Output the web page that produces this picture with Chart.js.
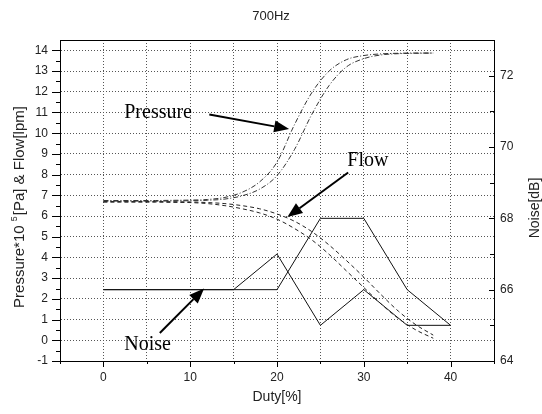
<!DOCTYPE html>
<html>
<head>
<meta charset="utf-8">
<script src="https://cdn.jsdelivr.net/npm/chart.js@4"></script>
<style>
body { margin: 0; background: #fff; }
</style>
</head>
<body>
<canvas id="chartDuty" width="542" height="414"></canvas>
<script>
// duty cycle samples for the pressure / flow curves
const duty = [0, 2, 4, 6, 8, 10, 12, 14, 16, 18, 20, 22, 24, 26, 28, 30, 32, 34, 36, 38];
const pressureA = [6.75, 6.75, 6.75, 6.75, 6.76, 6.77, 6.8, 6.9, 7.15, 7.65, 8.6, 10.4, 11.95, 13.0, 13.55, 13.75, 13.83, 13.86, 13.87, 13.87];
const pressureB = [6.72, 6.72, 6.72, 6.72, 6.73, 6.74, 6.76, 6.82, 6.98, 7.3, 7.95, 9.2, 10.9, 12.3, 13.2, 13.6, 13.78, 13.84, 13.86, 13.87];
const flowA = [6.7, 6.7, 6.7, 6.7, 6.69, 6.68, 6.65, 6.6, 6.5, 6.35, 6.1, 5.75, 5.25, 4.6, 3.85, 3.05, 2.2, 1.4, 0.75, 0.25];
const flowB = [6.67, 6.67, 6.67, 6.67, 6.66, 6.65, 6.6, 6.5, 6.35, 6.15, 5.85, 5.4, 4.85, 4.15, 3.35, 2.55, 1.75, 1.05, 0.5, 0.1];

// noise (right axis, dB)
const noiseDuty = [0, 5, 10, 15, 20, 25, 30, 35, 40];
const noiseA = [66, 66, 66, 66, 67, 65, 66, 65, 65];
const noiseB = [66, 66, 66, 66, 66, 68, 68, 66, 65];

// tick values
const xTicks = [-5, 0, 5, 10, 15, 20, 25, 30, 35, 40, 45];
const yTicks = [-1, 0, 1, 2, 3, 4, 5, 6, 7, 8, 9, 10, 11, 12, 13, 14];
const noiseTicks = [64, 66, 68, 70, 72];

// text labels with arrows (data units: duty, left axis)
const notes = [
    { text: "Pressure", x: 2.4, y: 11.0, from: [12.2, 10.9], to: [21.4, 10.2] },
    { text: "Flow", x: 28.1, y: 8.66, from: [28.2, 8.1], to: [21.2, 5.95] },
    { text: "Noise", x: 2.4, y: -0.23, from: [6.5, 0.35], to: [11.6, 2.5] }
];

function pts(xs, ys) {
    return xs.map((x, i) => ({ x: x, y: ys[i] }));
}

const sans = "'Liberation Sans', Arial, sans-serif";

const extras = {
    id: "extras",
    afterDatasetsDraw(chart) {
        const ctx = chart.ctx;
        const sx = chart.scales.x, sy = chart.scales.y;
        ctx.save();
        ctx.strokeStyle = "#000";
        ctx.fillStyle = "#000";
        ctx.font = "20px 'Liberation Serif', 'Times New Roman', serif";
        ctx.textBaseline = "middle";
        notes.forEach(n => {
            ctx.textAlign = "left";
            ctx.fillText(n.text, sx.getPixelForValue(n.x), sy.getPixelForValue(n.y));
            const x1 = sx.getPixelForValue(n.from[0]), y1 = sy.getPixelForValue(n.from[1]);
            const x2 = sx.getPixelForValue(n.to[0]), y2 = sy.getPixelForValue(n.to[1]);
            const ang = Math.atan2(y2 - y1, x2 - x1);
            const hl = 15, hw = 6;
            const bx = x2 - hl * Math.cos(ang), by = y2 - hl * Math.sin(ang);
            ctx.lineWidth = 2;
            ctx.beginPath();
            ctx.moveTo(x1, y1);
            ctx.lineTo(bx, by);
            ctx.stroke();
            ctx.beginPath();
            ctx.moveTo(x2, y2);
            ctx.lineTo(bx + hw * Math.sin(ang), by - hw * Math.cos(ang));
            ctx.lineTo(bx - hw * Math.sin(ang), by + hw * Math.cos(ang));
            ctx.closePath();
            ctx.fill();
        });
        ctx.restore();
    },
    afterDraw(chart) {
        const ctx = chart.ctx;
        const a = chart.chartArea;
        const sx = chart.scales.x, sy = chart.scales.y, sn = chart.scales.noise;
        const px = v => Math.round(v) + 0.5;
        ctx.save();
        ctx.strokeStyle = "#000";
        ctx.lineWidth = 1;
        ctx.beginPath();
        ctx.moveTo(a.left, px(a.top));
        ctx.lineTo(a.right, px(a.top));
        // left ticks, outward
        for (let v = -1; v <= 14; v += 0.5) {
            const y = px(sy.getPixelForValue(v));
            const len = Number.isInteger(v) ? 8 : 4;
            ctx.moveTo(a.left - len, y);
            ctx.lineTo(a.left, y);
        }
        // bottom ticks, outward
        xTicks.forEach(d => {
            const x = px(sx.getPixelForValue(d));
            const len = d % 10 === 0 ? 6 : 3;
            ctx.moveTo(x, a.bottom);
            ctx.lineTo(x, a.bottom + len);
        });
        // right ticks, inward
        for (let n = 64; n <= 73; n++) {
            const y = px(sn.getPixelForValue(n));
            const len = n % 2 === 0 ? 5 : 4;
            ctx.moveTo(a.right - len, y);
            ctx.lineTo(a.right, y);
        }
        ctx.stroke();

        // titles
        ctx.fillStyle = "#222";
        ctx.textAlign = "center";
        ctx.textBaseline = "middle";
        ctx.font = "13px " + sans;
        ctx.fillText("700Hz", 271, 16);
        ctx.font = "14px " + sans;
        ctx.fillText("Duty[%]", (a.left + a.right) / 2, 397);

        ctx.save();
        ctx.translate(535, 208);
        ctx.rotate(-Math.PI / 2);
        ctx.fillText("Noise[dB]", 0, 0);
        ctx.restore();

        // left title with superscript 5
        ctx.save();
        ctx.translate(20, 207);
        ctx.rotate(-Math.PI / 2);
        const p1 = "Pressure*10 ", p2 = "[Pa] & Flow[lpm]";
        ctx.font = "15px " + sans;
        const w1 = ctx.measureText(p1).width, w3 = ctx.measureText(p2).width;
        ctx.font = "9px " + sans;
        const w2 = ctx.measureText("5").width + 1;
        let x = -(w1 + w2 + w3) / 2;
        ctx.textAlign = "left";
        ctx.font = "15px " + sans;
        ctx.fillText(p1, x, 0);
        x += w1;
        ctx.font = "9px " + sans;
        ctx.fillText("5", x, -5);
        x += w2;
        ctx.font = "15px " + sans;
        ctx.fillText(p2, x, 0);
        ctx.restore();

        ctx.restore();
    }
};

const dotted = { color: "#555", lineWidth: 1, drawTicks: false };

const configDuty = {
    type: "line",
    data: {
        datasets: [
            { data: pts(duty, pressureA), borderColor: "#333", borderWidth: 1, borderDash: [5, 2, 1, 2], cubicInterpolationMode: "monotone", yAxisID: "y" },
            { data: pts(duty, pressureB), borderColor: "#333", borderWidth: 1, borderDash: [5, 2, 1, 2], cubicInterpolationMode: "monotone", yAxisID: "y" },
            { data: pts(duty, flowA), borderColor: "#222", borderWidth: 1, borderDash: [4, 3], cubicInterpolationMode: "monotone", yAxisID: "y" },
            { data: pts(duty, flowB), borderColor: "#222", borderWidth: 1, borderDash: [4, 3], cubicInterpolationMode: "monotone", yAxisID: "y" },
            { data: pts(noiseDuty, noiseA), borderColor: "#111", borderWidth: 1, tension: 0, cubicInterpolationMode: "default", yAxisID: "noise" },
            { data: pts(noiseDuty, noiseB), borderColor: "#111", borderWidth: 1, tension: 0, cubicInterpolationMode: "default", yAxisID: "noise" }
        ]
    },
    options: {
        responsive: false,
        animation: false,
        events: [],
        elements: { point: { radius: 0 } },
        layout: { padding: { top: 40, left: 0, right: 0, bottom: 0 } },
        plugins: {
            legend: { display: false },
            title: { display: false },
            tooltip: { enabled: false }
        },
        scales: {
            x: {
                type: "linear",
                min: -5,
                max: 45,
                afterBuildTicks: s => { s.ticks = xTicks.map(v => ({ value: v })); },
                afterFit: s => { s.height = 53; },
                ticks: {
                    autoSkip: false,
                    maxRotation: 0,
                    padding: 9,
                    color: "#222",
                    font: { family: sans, size: 12 },
                    callback: v => (v % 10 === 0 && v >= 0 && v <= 40 ? v : "")
                },
                grid: dotted,
                border: { color: "#000", width: 1, dash: [1, 2] }
            },
            y: {
                position: "left",
                min: -1,
                max: 14.5,
                afterBuildTicks: s => { s.ticks = yTicks.map(v => ({ value: v })); },
                afterFit: s => { s.width = 60; },
                ticks: {
                    padding: 12,
                    color: "#222",
                    font: { family: sans, size: 12 }
                },
                grid: dotted,
                border: { color: "#000", width: 1, dash: [1, 2] }
            },
            noise: {
                position: "right",
                min: 64,
                max: 73,
                afterBuildTicks: s => { s.ticks = noiseTicks.map(v => ({ value: v })); },
                afterFit: s => { s.width = 48; },
                ticks: {
                    padding: 6,
                    color: "#222",
                    font: { family: sans, size: 12 }
                },
                grid: { display: false, drawTicks: false },
                border: { color: "#000", width: 1 }
            }
        }
    },
    plugins: [extras]
};

var chartDuty = new Chart(document.getElementById("chartDuty"), configDuty);
</script>
</body>
</html>
